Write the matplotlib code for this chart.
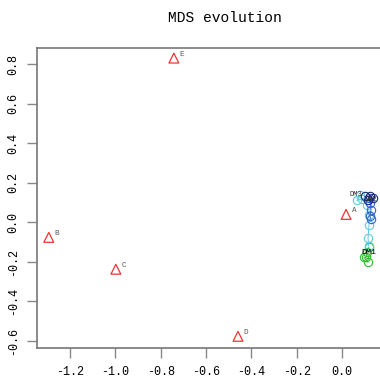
import matplotlib
matplotlib.use("Agg")
import matplotlib.pyplot as plt

plt.rcParams['font.family'] = ['Liberation Mono', 'DejaVu Sans Mono']

# reference points (red triangles)
ref_labels = ["A", "B", "C", "D", "E"]
ref_x = [0.018, -1.294, -0.998, -0.459, -0.742]
ref_y = [0.040, -0.076, -0.237, -0.576, 0.830]

# trajectories of the MDS evolution
navy_x = [0.102, 0.124, 0.137, 0.115]
navy_y = [0.131, 0.131, 0.121, 0.111]
blue_x = [0.119, 0.124, 0.128, 0.124, 0.128]
blue_y = [0.121, 0.096, 0.061, 0.030, 0.015]
cyan_x = [0.079, 0.066, 0.088, 0.110, 0.119, 0.119, 0.115, 0.117]
cyan_y = [0.136, 0.111, 0.116, 0.086, 0.035, -0.015, -0.081, -0.120]
green_x = [0.119, 0.110, 0.106, 0.097, 0.115]
green_y = [-0.126, -0.152, -0.177, -0.177, -0.202]

fig = plt.figure(figsize=(3.8, 3.78), dpi=100)
ax = fig.add_axes([37/380, 30/378, 363/380, 300/378])

ax.plot(green_x, green_y, color="#33bb33", lw=0.7, marker="o", ms=6, mfc="none", mew=0.8)
ax.plot(cyan_x, cyan_y, color="#66c8e0", lw=0.7, marker="o", ms=6, mfc="none", mew=0.8)
ax.plot(blue_x, blue_y, color="#3366cc", lw=0.7, marker="o", ms=6, mfc="none", mew=0.8)
ax.plot(navy_x, navy_y, color="#1a2a7a", lw=0.7, marker="o", ms=6, mfc="none", mew=0.8)

ax.scatter(ref_x, ref_y, marker="^", s=50, facecolors="none", edgecolors="#ee3333", linewidths=0.9, zorder=3)
for lab, x, y in zip(ref_labels, ref_x, ref_y):
    ax.text(x + 0.025, y + 0.012, lab, fontsize=5.5, color="#555555")

ax.text(0.084, -0.158, "DM1", fontsize=6, color="black")
ax.text(0.035, 0.132, "DM3", fontsize=5, color="#333333")
ax.text(0.101, 0.110, "DM2", fontsize=5, color="#333333")

ax.set_xlim(-1.346, 0.256)
ax.set_ylim(-0.635, 0.881)
ax.set_xticks([-1.2, -1.0, -0.8, -0.6, -0.4, -0.2, 0.0])
ax.set_xticklabels(["-1.2", "-1.0", "-0.8", "-0.6", "-0.4", "-0.2", "0.0"])
ax.set_yticks([-0.6, -0.4, -0.2, 0.0, 0.2, 0.4, 0.6, 0.8])
ax.set_yticklabels(["-0.6", "-0.4", "-0.2", "0.0", "0.2", "0.4", "0.6", "0.8"], rotation=90, va="center")
ax.tick_params(direction="out", length=7, width=1, color="#888888", labelsize=8.5, pad=6)
for s in ax.spines.values():
    s.set_color("#777777")
    s.set_linewidth(1.2)

fig.text(225/380, 1 - 18/378, "MDS evolution", ha="center", va="center", fontsize=10.5)

fig.savefig("out.png", dpi=100)
